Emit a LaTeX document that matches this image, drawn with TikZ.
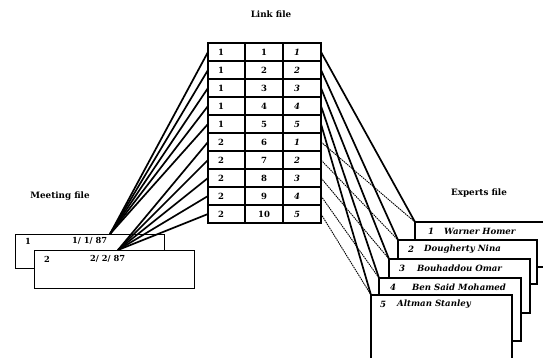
\documentclass[tikz,border=0pt]{standalone}
\usepackage{fontspec}
\setmainfont{DejaVu Serif}
\begin{document}
\begin{tikzpicture}[x=1pt,y=-1pt,
  cellline/.style={line width=1.8pt},
  boxline/.style={line width=1.3pt, fill=white},
  conn/.style={line width=1.7pt},
  dconn/.style={line width=0.9pt, dash pattern=on 1.5pt off 0.8pt},
  lbl/.style={font=\fontsize{8.8}{10}\selectfont\bfseries, inner sep=0pt},
  num/.style={font=\fontsize{8.5}{10}\selectfont\bfseries, inner sep=0pt},
  inum/.style={font=\fontsize{8.5}{10}\selectfont\bfseries\itshape, inner sep=0pt},
  txt/.style={font=\fontsize{8.3}{10}\selectfont\bfseries, inner sep=0pt, anchor=west},
  itxt/.style={font=\fontsize{8.6}{10}\selectfont\bfseries\itshape, inner sep=0pt, anchor=west}]
\clip (0,0) rectangle (543,358);
\fill[white] (0,0) rectangle (543,358);

% labels
\node[lbl] (linklbl) at (271,14) {Link file};
\node[lbl] (meetlbl) at (60,196) {Meeting file};
\node[lbl] (explbl) at (479,193) {Experts file};

% table anchor coordinates
\foreach \i in {1,...,10}{
  \coordinate (L\i) at (208,{43+18*\i-9});
  \coordinate (R\i) at (321,{43+18*\i-9});
}
% meeting connection points
\coordinate (m1) at (110,234);
\coordinate (m2) at (118,250);
% expert corners
\coordinate (e1) at (415,222);
\coordinate (e2) at (398,240);
\coordinate (e3) at (389,259);
\coordinate (e4) at (379,278);
\coordinate (e5) at (371,295);

% meeting box 1
\node[draw, boxline, minimum width=149pt, minimum height=34pt, inner sep=0pt, anchor=north west] (mb1) at (15,234) {};
\node[txt] (mb1a) at (25,241) {1};
\node[txt] (mb1b) at (72,241) {1/ 1/ 87};

% left connectors
\foreach \i in {1,...,5}{ \draw[conn] (L\i) -- (m1); }
\foreach \i in {6,...,10}{ \draw[conn] (L\i) -- (m2); }

% meeting box 2
\node[draw, boxline, minimum width=160pt, minimum height=38pt, inner sep=0pt, anchor=north west] (mb2) at (34,250) {};
\node[txt] (mb2a) at (44,259) {2};
\node[txt] (mb2b) at (90,259) {2/ 2/ 87};

% right connectors
\foreach \i in {1,...,5}{ \draw[conn] (R\i) -- (e\i); }
\foreach \i [evaluate=\i as \k using int(\i-5)] in {6,...,10}{ \draw[dconn] (R\i) -- (e\k); }

% table
\foreach \i [evaluate=\i as \mm using int(\i<6?1:2), evaluate=\i as \ee using int(\i<6?\i:\i-5)] in {1,...,10}{
  \draw[cellline] (208,{43+18*(\i-1)}) rectangle (245,{43+18*\i});
  \draw[cellline] (245,{43+18*(\i-1)}) rectangle (283,{43+18*\i});
  \draw[cellline] (283,{43+18*(\i-1)}) rectangle (321,{43+18*\i});
  \node[num, anchor=west] (ca\i) at (218,{43+18*\i-9}) {\mm};
  \node[num] (cb\i) at (264,{43+18*\i-9}) {\i};
  \node[inum, anchor=west] (cc\i) at (294,{43+18*\i-9}) {\ee};
}

% expert boxes
\draw[boxline] (e1) rectangle (560,267);
\draw[boxline] (e2) rectangle (537,284);
\draw[boxline] (e3) rectangle (530,313);
\draw[boxline] (e4) rectangle (521,341);
\draw[boxline] (e5) rectangle (512,370);
\node[itxt] (x1n) at (428,231) {1};
\node[itxt] (x1) at (444,231) {Warner Homer};
\node[itxt] (x2n) at (408,249) {2};
\node[itxt] (x2) at (424,249) {Dougherty Nina};
\node[itxt] (x3n) at (399,268) {3};
\node[itxt] (x3) at (417,268) {Bouhaddou Omar};
\node[itxt] (x4n) at (390,287) {4};
\node[itxt] (x4) at (412,287) {Ben Said Mohamed};
\node[itxt] (x5n) at (380,304) {5};
\node[itxt] (x5) at (397,304) {Altman Stanley};
\end{tikzpicture}
\end{document}
